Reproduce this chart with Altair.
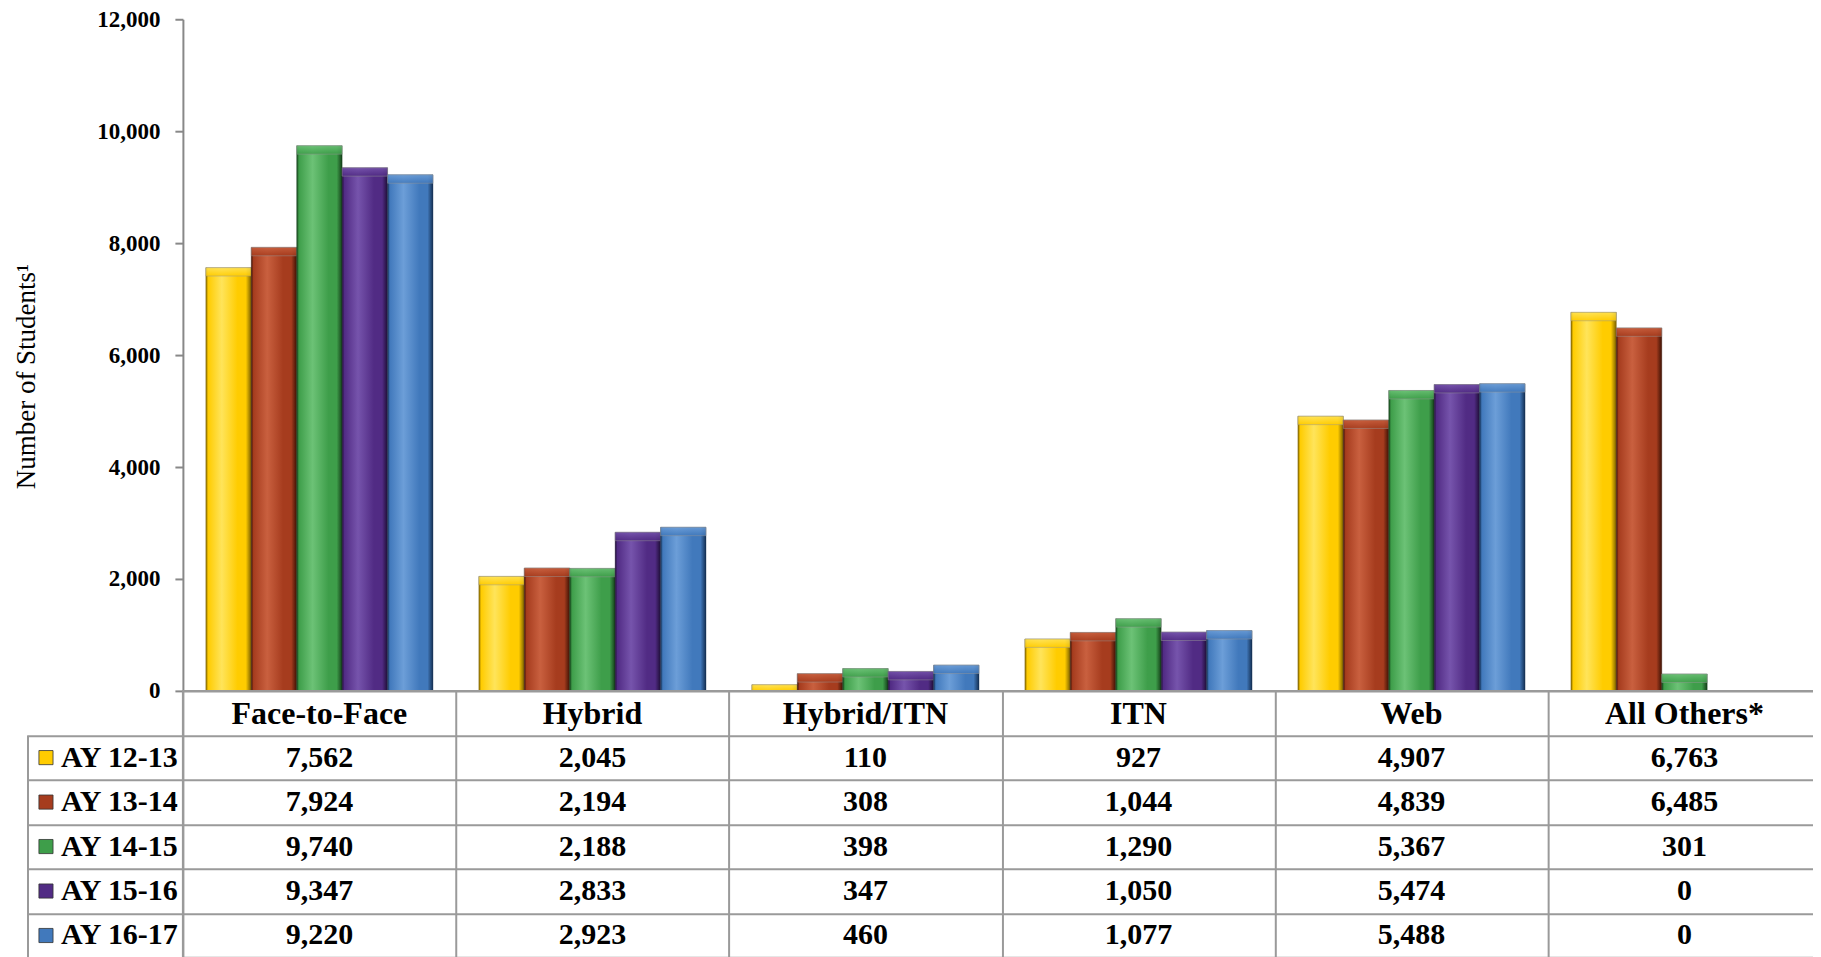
import altair as alt
import pandas as pd

# ---------------- data ----------------
categories = ["Face-to-Face", "Hybrid", "Hybrid/ITN", "ITN", "Web", "All Others*"]
years = ["AY 12-13", "AY 13-14", "AY 14-15", "AY 15-16", "AY 16-17"]
ay_12_13 = [7562, 2045, 110, 927, 4907, 6763]
ay_13_14 = [7924, 2194, 308, 1044, 4839, 6485]
ay_14_15 = [9740, 2188, 398, 1290, 5367, 301]
ay_15_16 = [9347, 2833, 347, 1050, 5474, 0]
ay_16_17 = [9220, 2923, 460, 1077, 5488, 0]
y_ticks = [0, 2000, 4000, 6000, 8000, 10000, 12000]

# styles (base, light, dark) per series
palette = [
    ("#FFCC00", "#FFE45A", "#7A6000"),
    ("#A63C1E", "#C9603F", "#3E1204"),
    ("#3E9E4A", "#6CC276", "#143F19"),
    ("#512B84", "#7654AC", "#1E0E36"),
    ("#4179BC", "#6C9ED8", "#142F52"),
]
swatch_colors = [p[0] for p in palette]

series = [ay_12_13, ay_13_14, ay_14_15, ay_15_16, ay_16_17]
rows = []
for yr, vals in zip(years, series):
    for c, v in zip(categories, vals):
        rows.append({"category": c, "year": yr, "students": v})
df = pd.DataFrame(rows)
header_df = pd.DataFrame({"category": categories, "row": ["Header"] * len(categories)})
legend_df = pd.DataFrame({"year": years})

FONT = "Liberation Serif"
PLOT_W = 1639
BAR_H = 672
TABLE_H = 267
GRID = "#9a9a9a"

# ---------------- bar chart ----------------
x_bar = alt.X(
    "category:N", sort=categories, axis=None,
    scale=alt.Scale(domain=categories, paddingInner=0.168, paddingOuter=0.084),
)
xoff = alt.XOffset(
    "year:N", sort=years,
    scale=alt.Scale(domain=years, paddingInner=0, paddingOuter=0),
)
y_scale = alt.Scale(domain=[0, 12000], nice=False, zero=True)
y_axis = alt.Axis(
    values=y_ticks, labelExpr="format(datum.value, ',')", title="Number of Students¹",
    grid=False, labelFont=FONT, labelFontSize=23, labelFontWeight="bold",
    labelColor="black", labelPadding=15, tickSize=8, tickColor="#888",
    tickWidth=2, domainColor="#888", domainWidth=2,
    titleFont=FONT, titleFontSize=27, titleFontWeight="normal",
    titleColor="black", titlePadding=56, titleY=357,
)
y_bar = alt.Y("students:Q", scale=y_scale, axis=y_axis)

layers = []
for yr, (base, light, dark) in zip(years, palette):
    grad = alt.Gradient(
        gradient="linear", x1=0, x2=1, y1=0, y2=0,
        stops=[
            alt.GradientStop(offset=0.0, color=dark),
            alt.GradientStop(offset=0.05, color=base),
            alt.GradientStop(offset=0.35, color=light),
            alt.GradientStop(offset=0.7, color=base),
            alt.GradientStop(offset=0.88, color=base),
            alt.GradientStop(offset=1.0, color=dark),
        ],
    )
    cap_grad = alt.Gradient(
        gradient="linear", x1=0, x2=0, y1=0, y2=1,
        stops=[
            alt.GradientStop(offset=0.0, color=light),
            alt.GradientStop(offset=1.0, color=base),
        ],
    )
    sub = alt.Chart(df).transform_filter(alt.datum.year == yr)
    layers.append(
        sub.mark_bar(fill=grad, stroke=dark, strokeWidth=0.6, strokeOpacity=0.6)
        .encode(x=x_bar, xOffset=xoff, y=y_bar)
    )
    layers.append(
        sub.transform_filter(alt.datum.students > 0)
        .transform_calculate(cap="max(datum.students - 150, 0)")
        .mark_bar(fill=cap_grad, opacity=0.85, stroke="#999", strokeWidth=0.8,
                  strokeOpacity=0.7)
        .encode(x=x_bar, xOffset=xoff, y=alt.Y("students:Q", scale=y_scale, axis=y_axis),
                y2="cap:Q")
    )

bars = alt.layer(*layers).properties(
    width=PLOT_W, height=BAR_H, view=alt.ViewBackground(stroke=None)
)

# ---------------- data table ----------------
x_tab = alt.X(
    "category:N", sort=categories,
    scale=alt.Scale(domain=categories, paddingInner=0, paddingOuter=0),
    axis=alt.Axis(
        labels=False, ticks=False, domain=False, title=None, grid=True,
        tickBand="extent", gridColor=GRID, gridWidth=2, gridOpacity=1,
    ),
)
row_domain = ["Header"] + years
y_axis_tab = alt.Axis(
    labels=False, domain=False, title=None, grid=True, tickBand="extent",
    gridColor=GRID, gridWidth=2, gridOpacity=1, ticks=True, tickSize=155,
    tickWidth=2,
    tickColor=alt.condition("datum.extra", alt.value("transparent"), alt.value(GRID)),
)

def ytab(field):
    return alt.Y(field, sort=row_domain,
                 scale=alt.Scale(domain=row_domain, paddingInner=0, paddingOuter=0),
                 axis=y_axis_tab)

values_txt = alt.Chart(df).mark_text(
    font=FONT, fontSize=30, fontWeight="bold", color="black"
).encode(x=x_tab, y=ytab("year:N"), text=alt.Text("students:Q", format=","))

header_txt = alt.Chart(header_df).mark_text(
    font=FONT, fontSize=32, fontWeight="bold", color="black", dy=1
).encode(x=x_tab, y=ytab("row:N"), text="category:N")

legend_txt = alt.Chart(legend_df).mark_text(
    font=FONT, fontSize=30, fontWeight="bold", color="black", align="left"
).encode(x=alt.value(-122), y=ytab("year:N"), text="year:N")

legend_sw = alt.Chart(legend_df).mark_square(
    size=200, opacity=1, stroke="#333", strokeWidth=0.8
).encode(
    x=alt.value(-137), y=ytab("year:N"),
    color=alt.Color("year:N", scale=alt.Scale(domain=years, range=swatch_colors), legend=None),
)

left_border = alt.Chart(pd.DataFrame({"a": [0]})).mark_rule(
    color=GRID, strokeWidth=2
).encode(x=alt.value(-155), y=alt.value(TABLE_H / 6), y2=alt.value(TABLE_H))

table = alt.layer(
    values_txt, header_txt, legend_txt, legend_sw, left_border
).properties(
    width=PLOT_W, height=TABLE_H,
    view=alt.ViewBackground(stroke=GRID, strokeWidth=2),
)

chart = alt.vconcat(bars, table, spacing=0, bounds="flush").resolve_scale(
    x="independent", y="independent"
).properties(
    padding={"left": 4, "top": 0, "right": -9, "bottom": 0},
    background="white",
)

chart.save("out.html", embed_options={"renderer": "svg", "actions": False})
